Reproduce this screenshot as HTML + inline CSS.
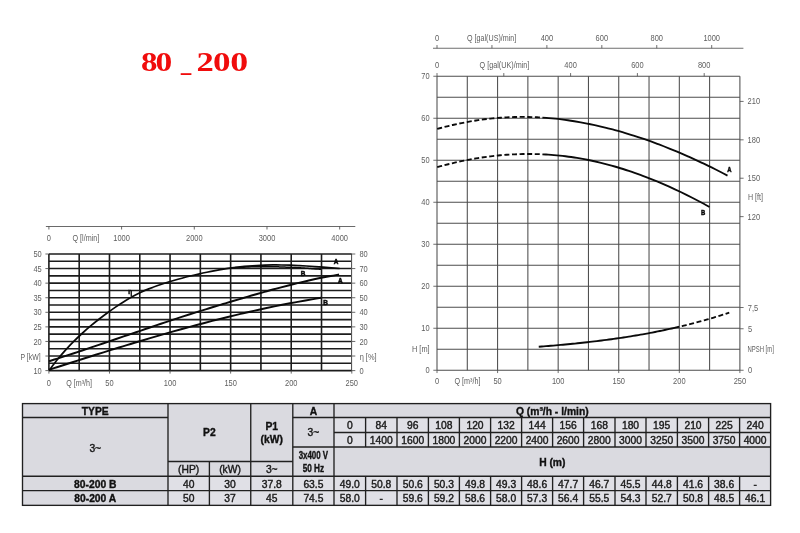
<!DOCTYPE html>
<html><head><meta charset="utf-8"><title>80_200</title>
<style>html,body{margin:0;padding:0;background:#fff;}body{width:800px;height:533px;overflow:hidden;font-family:"Liberation Sans",sans-serif;}svg{display:block;}text{font-family:"Liberation Sans",sans-serif;}.ax{font-size:8.6px;fill:#5e5e5e;}.lb{font-size:6.4px;font-weight:bold;fill:#0a0a0a;stroke:#0a0a0a;stroke-width:0.5px;}.tb{font-size:10.3px;fill:#1a1a1a;stroke:#1a1a1a;stroke-width:0.4px;}.tbb{font-size:10.3px;font-weight:bold;fill:#111;stroke:#111;stroke-width:0.35px;}.ttl text{font-family:"Liberation Serif",serif;font-weight:bold;font-size:27px;fill:#f00c0c;}</style>
</head><body>
<svg width="800" height="533" viewBox="0 0 800 533">
<defs><filter id="soft" x="0" y="0" width="800" height="533" filterUnits="userSpaceOnUse" color-interpolation-filters="sRGB"><feGaussianBlur stdDeviation="0.38"/></filter></defs>
<rect x="0" y="0" width="800" height="533" fill="#ffffff"/>
<g filter="url(#soft)">
<g class="ttl">
<text transform="translate(149.30 71.20) scale(1.22 1)" x="0" y="0" text-anchor="middle">8</text>
<text transform="translate(163.80 71.20) scale(1.24 1)" x="0" y="0" text-anchor="middle">0</text>
<text transform="translate(205.15 71.20) scale(1.28 1)" x="0" y="0" text-anchor="middle">2</text>
<text transform="translate(221.80 71.20) scale(1.30 1)" x="0" y="0" text-anchor="middle">0</text>
<text transform="translate(239.15 71.20) scale(1.33 1)" x="0" y="0" text-anchor="middle">0</text>
</g>
<rect x="180.7" y="73.2" width="10.7" height="1.8" fill="#f00c0c"/>
<g stroke="#1c1c1c" stroke-width="1.6" fill="none">
<line x1="48.90" y1="254.00" x2="351.80" y2="254.00"/>
<line x1="48.90" y1="261.29" x2="351.80" y2="261.29"/>
<line x1="48.90" y1="268.57" x2="351.80" y2="268.57"/>
<line x1="48.90" y1="275.86" x2="351.80" y2="275.86"/>
<line x1="48.90" y1="283.15" x2="351.80" y2="283.15"/>
<line x1="48.90" y1="290.44" x2="351.80" y2="290.44"/>
<line x1="48.90" y1="297.73" x2="351.80" y2="297.73"/>
<line x1="48.90" y1="305.01" x2="351.80" y2="305.01"/>
<line x1="48.90" y1="312.30" x2="351.80" y2="312.30"/>
<line x1="48.90" y1="319.59" x2="351.80" y2="319.59"/>
<line x1="48.90" y1="326.88" x2="351.80" y2="326.88"/>
<line x1="48.90" y1="334.16" x2="351.80" y2="334.16"/>
<line x1="48.90" y1="341.45" x2="351.80" y2="341.45"/>
<line x1="48.90" y1="348.74" x2="351.80" y2="348.74"/>
<line x1="48.90" y1="356.03" x2="351.80" y2="356.03"/>
<line x1="48.90" y1="363.31" x2="351.80" y2="363.31"/>
<line x1="48.90" y1="370.60" x2="351.80" y2="370.60"/>
<line x1="48.90" y1="254.00" x2="48.90" y2="370.60"/>
<line x1="79.19" y1="254.00" x2="79.19" y2="370.60"/>
<line x1="109.48" y1="254.00" x2="109.48" y2="370.60"/>
<line x1="139.77" y1="254.00" x2="139.77" y2="370.60"/>
<line x1="170.06" y1="254.00" x2="170.06" y2="370.60"/>
<line x1="200.35" y1="254.00" x2="200.35" y2="370.60"/>
<line x1="230.64" y1="254.00" x2="230.64" y2="370.60"/>
<line x1="260.93" y1="254.00" x2="260.93" y2="370.60"/>
<line x1="291.22" y1="254.00" x2="291.22" y2="370.60"/>
<line x1="321.51" y1="254.00" x2="321.51" y2="370.60"/>
</g>
<line x1="351.80" y1="255.00" x2="351.80" y2="369.60" stroke="#fff" stroke-width="1.6"/>
<line x1="351.60" y1="254.00" x2="351.60" y2="370.60" stroke="#333" stroke-width="0.9"/>
<g stroke="#444" stroke-width="0.8" fill="none">
<line x1="45.40" y1="254.00" x2="48.90" y2="254.00"/>
<line x1="351.80" y1="254.00" x2="355.30" y2="254.00"/>
<line x1="45.40" y1="268.57" x2="48.90" y2="268.57"/>
<line x1="351.80" y1="268.57" x2="355.30" y2="268.57"/>
<line x1="45.40" y1="283.15" x2="48.90" y2="283.15"/>
<line x1="351.80" y1="283.15" x2="355.30" y2="283.15"/>
<line x1="45.40" y1="297.73" x2="48.90" y2="297.73"/>
<line x1="351.80" y1="297.73" x2="355.30" y2="297.73"/>
<line x1="45.40" y1="312.30" x2="48.90" y2="312.30"/>
<line x1="351.80" y1="312.30" x2="355.30" y2="312.30"/>
<line x1="45.40" y1="326.88" x2="48.90" y2="326.88"/>
<line x1="351.80" y1="326.88" x2="355.30" y2="326.88"/>
<line x1="45.40" y1="341.45" x2="48.90" y2="341.45"/>
<line x1="351.80" y1="341.45" x2="355.30" y2="341.45"/>
<line x1="45.40" y1="356.03" x2="48.90" y2="356.03"/>
<line x1="351.80" y1="356.03" x2="355.30" y2="356.03"/>
<line x1="45.40" y1="370.60" x2="48.90" y2="370.60"/>
<line x1="351.80" y1="370.60" x2="355.30" y2="370.60"/>
<line x1="48.90" y1="370.60" x2="48.90" y2="373.60"/>
<line x1="109.48" y1="370.60" x2="109.48" y2="373.60"/>
<line x1="170.06" y1="370.60" x2="170.06" y2="373.60"/>
<line x1="230.64" y1="370.60" x2="230.64" y2="373.60"/>
<line x1="291.22" y1="370.60" x2="291.22" y2="373.60"/>
<line x1="351.80" y1="370.60" x2="351.80" y2="373.60"/>
<line x1="45.90" y1="226.50" x2="355.30" y2="226.50"/>
<line x1="48.90" y1="226.50" x2="48.90" y2="229.50"/>
<line x1="121.60" y1="226.50" x2="121.60" y2="229.50"/>
<line x1="194.29" y1="226.50" x2="194.29" y2="229.50"/>
<line x1="266.99" y1="226.50" x2="266.99" y2="229.50"/>
<line x1="339.68" y1="226.50" x2="339.68" y2="229.50"/>
</g>
<text transform="translate(48.90 240.70) scale(0.870 1)" x="0" y="0" class="ax" text-anchor="middle" >0</text>
<text transform="translate(121.60 240.70) scale(0.870 1)" x="0" y="0" class="ax" text-anchor="middle" >1000</text>
<text transform="translate(194.29 240.70) scale(0.870 1)" x="0" y="0" class="ax" text-anchor="middle" >2000</text>
<text transform="translate(266.99 240.70) scale(0.870 1)" x="0" y="0" class="ax" text-anchor="middle" >3000</text>
<text transform="translate(339.68 240.70) scale(0.870 1)" x="0" y="0" class="ax" text-anchor="middle" >4000</text>
<text x="72.50" y="240.70" class="ax" text-anchor="start" textLength="26.80" lengthAdjust="spacingAndGlyphs">Q [l/min]</text>
<text transform="translate(41.70 257.10) scale(0.870 1)" x="0" y="0" class="ax" text-anchor="end" >50</text>
<text transform="translate(41.70 271.68) scale(0.870 1)" x="0" y="0" class="ax" text-anchor="end" >45</text>
<text transform="translate(41.70 286.25) scale(0.870 1)" x="0" y="0" class="ax" text-anchor="end" >40</text>
<text transform="translate(41.70 300.83) scale(0.870 1)" x="0" y="0" class="ax" text-anchor="end" >35</text>
<text transform="translate(41.70 315.40) scale(0.870 1)" x="0" y="0" class="ax" text-anchor="end" >30</text>
<text transform="translate(41.70 329.98) scale(0.870 1)" x="0" y="0" class="ax" text-anchor="end" >25</text>
<text transform="translate(41.70 344.55) scale(0.870 1)" x="0" y="0" class="ax" text-anchor="end" >20</text>
<text x="20.50" y="360.03" class="ax" text-anchor="start" textLength="20.10" lengthAdjust="spacingAndGlyphs">P [kW]</text>
<text transform="translate(41.70 373.70) scale(0.870 1)" x="0" y="0" class="ax" text-anchor="end" >10</text>
<text transform="translate(359.40 257.10) scale(0.870 1)" x="0" y="0" class="ax" text-anchor="start" >80</text>
<text transform="translate(359.40 271.68) scale(0.870 1)" x="0" y="0" class="ax" text-anchor="start" >70</text>
<text transform="translate(359.40 286.25) scale(0.870 1)" x="0" y="0" class="ax" text-anchor="start" >60</text>
<text transform="translate(359.40 300.83) scale(0.870 1)" x="0" y="0" class="ax" text-anchor="start" >50</text>
<text transform="translate(359.40 315.40) scale(0.870 1)" x="0" y="0" class="ax" text-anchor="start" >40</text>
<text transform="translate(359.40 329.98) scale(0.870 1)" x="0" y="0" class="ax" text-anchor="start" >30</text>
<text transform="translate(359.40 344.55) scale(0.870 1)" x="0" y="0" class="ax" text-anchor="start" >20</text>
<text x="359.70" y="359.93" class="ax" text-anchor="start" textLength="16.90" lengthAdjust="spacingAndGlyphs">&#951; [%]</text>
<text transform="translate(359.40 373.70) scale(0.870 1)" x="0" y="0" class="ax" text-anchor="start" >0</text>
<text transform="translate(48.90 386.00) scale(0.870 1)" x="0" y="0" class="ax" text-anchor="middle" >0</text>
<text transform="translate(109.48 386.00) scale(0.870 1)" x="0" y="0" class="ax" text-anchor="middle" >50</text>
<text transform="translate(170.06 386.00) scale(0.870 1)" x="0" y="0" class="ax" text-anchor="middle" >100</text>
<text transform="translate(230.64 386.00) scale(0.870 1)" x="0" y="0" class="ax" text-anchor="middle" >150</text>
<text transform="translate(291.22 386.00) scale(0.870 1)" x="0" y="0" class="ax" text-anchor="middle" >200</text>
<text transform="translate(351.80 386.00) scale(0.870 1)" x="0" y="0" class="ax" text-anchor="middle" >250</text>
<text x="66.20" y="386.00" class="ax" text-anchor="start" textLength="25.80" lengthAdjust="spacingAndGlyphs">Q [m&#179;/h]</text>
<g stroke="#0a0a0a" stroke-width="1.95" fill="none" stroke-linecap="butt">
<path d="M49.10 370.44 C50.48 368.64 54.63 363.01 57.40 359.59 C60.17 356.16 62.94 352.96 65.70 349.89 C68.47 346.82 71.24 343.95 74.00 341.18 C76.77 338.40 79.54 335.79 82.31 333.25 C85.07 330.72 87.84 328.31 90.61 325.97 C93.37 323.64 96.14 321.41 98.91 319.25 C101.68 317.09 104.44 315.02 107.21 313.00 C109.98 310.99 112.74 309.03 115.51 307.15 C118.28 305.27 121.05 303.45 123.81 301.73 C126.58 300.01 129.35 298.36 132.11 296.83 C134.88 295.29 137.65 293.85 140.42 292.52 C143.18 291.20 145.95 290.00 148.72 288.87 C151.48 287.74 154.25 286.72 157.02 285.74 C159.79 284.77 162.55 283.88 165.32 283.01 C168.09 282.14 170.85 281.32 173.62 280.52 C176.39 279.72 179.16 278.94 181.92 278.20 C184.69 277.45 187.46 276.73 190.22 276.04 C192.99 275.35 195.76 274.68 198.53 274.05 C201.29 273.42 204.06 272.81 206.83 272.24 C209.59 271.67 212.36 271.12 215.13 270.61 C217.90 270.10 220.66 269.63 223.43 269.18 C226.20 268.74 228.96 268.32 231.73 267.95 C234.50 267.57 237.27 267.22 240.03 266.92 C242.80 266.61 245.57 266.33 248.33 266.10 C251.10 265.86 253.87 265.66 256.64 265.50 C259.40 265.34 262.17 265.21 264.94 265.13 C267.70 265.04 270.47 264.99 273.24 264.97 C276.01 264.95 278.77 264.96 281.54 265.00 C284.31 265.04 287.07 265.11 289.84 265.20 C292.61 265.29 295.38 265.41 298.14 265.55 C300.91 265.68 303.68 265.84 306.44 266.00 C309.21 266.17 311.98 266.36 314.75 266.55 C317.51 266.75 320.28 266.96 323.05 267.17 C325.81 267.38 328.58 267.60 331.35 267.82 C334.12 268.04 338.27 268.38 339.65 268.49" stroke-width="1.70"/>
<path d="M230.70 268.00 C231.13 267.96 232.42 267.85 233.28 267.78 C234.14 267.72 235.00 267.65 235.86 267.59 C236.72 267.53 237.58 267.47 238.44 267.42 C239.30 267.36 240.16 267.31 241.02 267.26 C241.88 267.22 242.74 267.17 243.60 267.13 C244.46 267.09 245.32 267.05 246.18 267.01 C247.04 266.98 247.90 266.94 248.76 266.91 C249.62 266.88 250.48 266.85 251.34 266.83 C252.20 266.80 253.06 266.78 253.92 266.76 C254.78 266.74 255.64 266.73 256.50 266.71 C257.36 266.70 258.22 266.69 259.08 266.68 C259.94 266.67 260.80 266.66 261.66 266.66 C262.52 266.65 263.38 266.65 264.24 266.65 C265.10 266.65 265.96 266.66 266.82 266.66 C267.68 266.67 268.54 266.68 269.40 266.69 C270.26 266.70 271.12 266.71 271.98 266.72 C272.84 266.74 273.70 266.75 274.56 266.77 C275.42 266.79 276.28 266.81 277.14 266.83 C278.00 266.86 278.86 266.88 279.72 266.91 C280.58 266.93 281.44 266.96 282.30 266.99 C283.16 267.02 284.02 267.05 284.88 267.09 C285.74 267.12 286.60 267.16 287.46 267.19 C288.32 267.23 289.18 267.27 290.04 267.31 C290.90 267.35 291.76 267.39 292.62 267.43 C293.48 267.48 294.34 267.52 295.20 267.57 C296.06 267.61 296.92 267.66 297.78 267.71 C298.64 267.76 299.50 267.81 300.36 267.86 C301.22 267.91 302.08 267.97 302.94 268.02 C303.80 268.07 304.66 268.13 305.52 268.18 C306.38 268.24 307.24 268.30 308.10 268.36 C308.96 268.42 309.82 268.47 310.68 268.54 C311.54 268.60 312.40 268.66 313.26 268.72 C314.12 268.78 314.98 268.84 315.84 268.91 C316.70 268.97 317.56 269.04 318.42 269.10 C319.28 269.17 320.57 269.27 321.00 269.30" stroke-width="1.50"/>
<path d="M49.10 361.20 C50.48 360.76 54.62 359.46 57.38 358.58 C60.15 357.69 62.91 356.80 65.67 355.91 C68.43 355.01 71.19 354.11 73.95 353.20 C76.71 352.29 79.48 351.38 82.24 350.46 C85.00 349.54 87.76 348.62 90.52 347.69 C93.28 346.77 96.04 345.84 98.81 344.90 C101.57 343.97 104.33 343.03 107.09 342.10 C109.85 341.16 112.61 340.22 115.37 339.28 C118.14 338.34 120.90 337.39 123.66 336.45 C126.42 335.51 129.18 334.56 131.94 333.62 C134.70 332.68 137.47 331.74 140.23 330.80 C142.99 329.86 145.75 328.92 148.51 327.98 C151.27 327.05 154.03 326.11 156.80 325.18 C159.56 324.25 162.32 323.33 165.08 322.40 C167.84 321.48 170.60 320.56 173.36 319.65 C176.13 318.74 178.89 317.83 181.65 316.93 C184.41 316.03 187.17 315.14 189.93 314.26 C192.69 313.37 195.46 312.50 198.22 311.63 C200.98 310.76 203.74 309.91 206.50 309.06 C209.26 308.21 212.02 307.37 214.79 306.53 C217.55 305.69 220.31 304.87 223.07 304.04 C225.83 303.21 228.59 302.38 231.35 301.55 C234.12 300.72 236.88 299.89 239.64 299.07 C242.40 298.25 245.16 297.42 247.92 296.61 C250.68 295.80 253.45 294.99 256.21 294.19 C258.97 293.40 261.73 292.61 264.49 291.84 C267.25 291.07 270.01 290.31 272.78 289.56 C275.54 288.82 278.30 288.08 281.06 287.36 C283.82 286.64 286.58 285.93 289.34 285.23 C292.11 284.53 294.87 283.84 297.63 283.16 C300.39 282.49 303.15 281.82 305.91 281.18 C308.67 280.54 311.44 279.91 314.20 279.30 C316.96 278.70 319.72 278.11 322.48 277.56 C325.24 277.00 328.00 276.47 330.77 275.97 C333.53 275.47 337.67 274.79 339.05 274.55" stroke-width="1.95"/>
<path d="M49.10 369.75 C50.39 369.33 54.28 368.07 56.87 367.23 C59.46 366.39 62.05 365.55 64.64 364.72 C67.23 363.88 69.82 363.05 72.41 362.22 C75.00 361.38 77.58 360.55 80.17 359.73 C82.76 358.90 85.35 358.07 87.94 357.25 C90.53 356.43 93.12 355.61 95.71 354.79 C98.30 353.97 100.89 353.16 103.48 352.35 C106.07 351.54 108.66 350.73 111.25 349.93 C113.84 349.12 116.43 348.32 119.02 347.52 C121.61 346.73 124.20 345.93 126.79 345.14 C129.38 344.36 131.96 343.57 134.55 342.79 C137.14 342.01 139.73 341.23 142.32 340.46 C144.91 339.69 147.50 338.92 150.09 338.16 C152.68 337.39 155.27 336.64 157.86 335.88 C160.45 335.13 163.04 334.38 165.63 333.64 C168.22 332.90 170.81 332.16 173.40 331.43 C175.99 330.70 178.58 329.98 181.17 329.26 C183.76 328.54 186.34 327.82 188.93 327.12 C191.52 326.41 194.11 325.71 196.70 325.01 C199.29 324.32 201.88 323.63 204.47 322.95 C207.06 322.27 209.65 321.59 212.24 320.93 C214.83 320.26 217.42 319.60 220.01 318.95 C222.60 318.29 225.19 317.65 227.78 317.01 C230.37 316.37 232.96 315.74 235.55 315.12 C238.14 314.50 240.72 313.88 243.31 313.28 C245.90 312.67 248.49 312.07 251.08 311.48 C253.67 310.90 256.26 310.31 258.85 309.74 C261.44 309.17 264.03 308.61 266.62 308.05 C269.21 307.50 271.80 306.95 274.39 306.41 C276.98 305.88 279.57 305.35 282.16 304.83 C284.75 304.32 287.34 303.81 289.93 303.31 C292.52 302.81 295.10 302.32 297.69 301.85 C300.28 301.37 302.87 300.90 305.46 300.44 C308.05 299.98 310.64 299.54 313.23 299.10 C315.82 298.66 319.71 298.04 321.00 297.82" stroke-width="1.95"/>
</g>
<text x="336.05" y="264.00" class="lb" text-anchor="middle" >A</text>
<text x="303.00" y="275.90" class="lb" text-anchor="middle" >B</text>
<text x="340.30" y="282.60" class="lb" text-anchor="middle" >A</text>
<text x="325.60" y="304.70" class="lb" text-anchor="middle" >B</text>
<text x="130.20" y="294.20" class="lb" text-anchor="middle" >&#951;</text>
<g stroke="#4c4c4c" stroke-width="1.05" fill="none">
<line x1="437.00" y1="76.25" x2="739.90" y2="76.25"/>
<line x1="437.00" y1="97.25" x2="739.90" y2="97.25"/>
<line x1="437.00" y1="118.25" x2="739.90" y2="118.25"/>
<line x1="437.00" y1="139.25" x2="739.90" y2="139.25"/>
<line x1="437.00" y1="160.25" x2="739.90" y2="160.25"/>
<line x1="437.00" y1="181.25" x2="739.90" y2="181.25"/>
<line x1="437.00" y1="202.25" x2="739.90" y2="202.25"/>
<line x1="437.00" y1="223.25" x2="739.90" y2="223.25"/>
<line x1="437.00" y1="244.25" x2="739.90" y2="244.25"/>
<line x1="437.00" y1="265.25" x2="739.90" y2="265.25"/>
<line x1="437.00" y1="286.25" x2="739.90" y2="286.25"/>
<line x1="437.00" y1="307.25" x2="739.90" y2="307.25"/>
<line x1="437.00" y1="328.25" x2="739.90" y2="328.25"/>
<line x1="437.00" y1="349.25" x2="739.90" y2="349.25"/>
<line x1="437.00" y1="370.25" x2="739.90" y2="370.25"/>
<line x1="437.00" y1="76.25" x2="437.00" y2="370.25"/>
<line x1="467.29" y1="76.25" x2="467.29" y2="370.25"/>
<line x1="497.58" y1="76.25" x2="497.58" y2="370.25"/>
<line x1="527.87" y1="76.25" x2="527.87" y2="370.25"/>
<line x1="558.16" y1="76.25" x2="558.16" y2="370.25"/>
<line x1="588.45" y1="76.25" x2="588.45" y2="370.25"/>
<line x1="618.74" y1="76.25" x2="618.74" y2="370.25"/>
<line x1="649.03" y1="76.25" x2="649.03" y2="370.25"/>
<line x1="679.32" y1="76.25" x2="679.32" y2="370.25"/>
<line x1="709.61" y1="76.25" x2="709.61" y2="370.25"/>
<line x1="739.90" y1="76.25" x2="739.90" y2="370.25"/>
</g>
<g stroke="#4a4a4a" stroke-width="0.8" fill="none">
<line x1="433.30" y1="76.25" x2="437.00" y2="76.25"/>
<line x1="433.30" y1="118.25" x2="437.00" y2="118.25"/>
<line x1="433.30" y1="160.25" x2="437.00" y2="160.25"/>
<line x1="433.30" y1="202.25" x2="437.00" y2="202.25"/>
<line x1="433.30" y1="244.25" x2="437.00" y2="244.25"/>
<line x1="433.30" y1="286.25" x2="437.00" y2="286.25"/>
<line x1="433.30" y1="328.25" x2="437.00" y2="328.25"/>
<line x1="433.30" y1="370.25" x2="437.00" y2="370.25"/>
<line x1="437.00" y1="370.25" x2="437.00" y2="373.05"/>
<line x1="497.58" y1="370.25" x2="497.58" y2="373.05"/>
<line x1="558.16" y1="370.25" x2="558.16" y2="373.05"/>
<line x1="618.74" y1="370.25" x2="618.74" y2="373.05"/>
<line x1="679.32" y1="370.25" x2="679.32" y2="373.05"/>
<line x1="739.90" y1="370.25" x2="739.90" y2="373.05"/>
<line x1="739.90" y1="216.63" x2="743.60" y2="216.63"/>
<line x1="739.90" y1="178.23" x2="743.60" y2="178.23"/>
<line x1="739.90" y1="139.82" x2="743.60" y2="139.82"/>
<line x1="739.90" y1="101.42" x2="743.60" y2="101.42"/>
<line x1="739.90" y1="307.50" x2="743.60" y2="307.50"/>
<line x1="739.90" y1="328.75" x2="743.60" y2="328.75"/>
<line x1="739.90" y1="370.25" x2="743.60" y2="370.25"/>
<line x1="437.00" y1="76.25" x2="437.00" y2="73.05"/>
<line x1="503.80" y1="76.25" x2="503.80" y2="73.05"/>
<line x1="570.60" y1="76.25" x2="570.60" y2="73.05"/>
<line x1="637.40" y1="76.25" x2="637.40" y2="73.05"/>
<line x1="704.20" y1="76.25" x2="704.20" y2="73.05"/>
<line x1="433.00" y1="48.25" x2="743.40" y2="48.25"/>
<line x1="437.00" y1="48.25" x2="437.00" y2="45.05"/>
<line x1="491.94" y1="48.25" x2="491.94" y2="45.05"/>
<line x1="546.88" y1="48.25" x2="546.88" y2="45.05"/>
<line x1="601.82" y1="48.25" x2="601.82" y2="45.05"/>
<line x1="656.76" y1="48.25" x2="656.76" y2="45.05"/>
<line x1="711.70" y1="48.25" x2="711.70" y2="45.05"/>
</g>
<text transform="translate(437.00 41.00) scale(0.870 1)" x="0" y="0" class="ax" text-anchor="middle" >0</text>
<text transform="translate(546.88 41.00) scale(0.870 1)" x="0" y="0" class="ax" text-anchor="middle" >400</text>
<text transform="translate(601.82 41.00) scale(0.870 1)" x="0" y="0" class="ax" text-anchor="middle" >600</text>
<text transform="translate(656.76 41.00) scale(0.870 1)" x="0" y="0" class="ax" text-anchor="middle" >800</text>
<text transform="translate(711.70 41.00) scale(0.870 1)" x="0" y="0" class="ax" text-anchor="middle" >1000</text>
<text x="467.00" y="41.00" class="ax" text-anchor="start" textLength="49.30" lengthAdjust="spacingAndGlyphs">Q [gal(US)/min]</text>
<text transform="translate(437.00 68.20) scale(0.870 1)" x="0" y="0" class="ax" text-anchor="middle" >0</text>
<text transform="translate(570.60 68.20) scale(0.870 1)" x="0" y="0" class="ax" text-anchor="middle" >400</text>
<text transform="translate(637.40 68.20) scale(0.870 1)" x="0" y="0" class="ax" text-anchor="middle" >600</text>
<text transform="translate(704.20 68.20) scale(0.870 1)" x="0" y="0" class="ax" text-anchor="middle" >800</text>
<text x="479.50" y="68.20" class="ax" text-anchor="start" textLength="49.80" lengthAdjust="spacingAndGlyphs">Q [gal(UK)/min]</text>
<text transform="translate(429.60 79.05) scale(0.870 1)" x="0" y="0" class="ax" text-anchor="end" >70</text>
<text transform="translate(429.60 121.05) scale(0.870 1)" x="0" y="0" class="ax" text-anchor="end" >60</text>
<text transform="translate(429.60 163.05) scale(0.870 1)" x="0" y="0" class="ax" text-anchor="end" >50</text>
<text transform="translate(429.60 205.05) scale(0.870 1)" x="0" y="0" class="ax" text-anchor="end" >40</text>
<text transform="translate(429.60 247.05) scale(0.870 1)" x="0" y="0" class="ax" text-anchor="end" >30</text>
<text transform="translate(429.60 289.05) scale(0.870 1)" x="0" y="0" class="ax" text-anchor="end" >20</text>
<text transform="translate(429.60 331.05) scale(0.870 1)" x="0" y="0" class="ax" text-anchor="end" >10</text>
<text transform="translate(429.60 373.05) scale(0.870 1)" x="0" y="0" class="ax" text-anchor="end" >0</text>
<text x="412.00" y="352.30" class="ax" text-anchor="start" textLength="17.60" lengthAdjust="spacingAndGlyphs">H [m]</text>
<text transform="translate(437.00 384.00) scale(0.870 1)" x="0" y="0" class="ax" text-anchor="middle" >0</text>
<text transform="translate(497.58 384.00) scale(0.870 1)" x="0" y="0" class="ax" text-anchor="middle" >50</text>
<text transform="translate(558.16 384.00) scale(0.870 1)" x="0" y="0" class="ax" text-anchor="middle" >100</text>
<text transform="translate(618.74 384.00) scale(0.870 1)" x="0" y="0" class="ax" text-anchor="middle" >150</text>
<text transform="translate(679.32 384.00) scale(0.870 1)" x="0" y="0" class="ax" text-anchor="middle" >200</text>
<text transform="translate(739.90 384.00) scale(0.870 1)" x="0" y="0" class="ax" text-anchor="middle" >250</text>
<text x="454.50" y="384.00" class="ax" text-anchor="start" textLength="26.00" lengthAdjust="spacingAndGlyphs">Q [m&#179;/h]</text>
<text transform="translate(747.60 219.53) scale(0.870 1)" x="0" y="0" class="ax" text-anchor="start" >120</text>
<text transform="translate(747.60 181.13) scale(0.870 1)" x="0" y="0" class="ax" text-anchor="start" >150</text>
<text transform="translate(747.60 142.72) scale(0.870 1)" x="0" y="0" class="ax" text-anchor="start" >180</text>
<text transform="translate(747.60 104.32) scale(0.870 1)" x="0" y="0" class="ax" text-anchor="start" >210</text>
<text x="748.00" y="199.80" class="ax" text-anchor="start" textLength="15.00" lengthAdjust="spacingAndGlyphs">H [ft]</text>
<text transform="translate(747.80 310.50) scale(0.870 1)" x="0" y="0" class="ax" text-anchor="start" >7,5</text>
<text transform="translate(748.00 331.50) scale(0.870 1)" x="0" y="0" class="ax" text-anchor="start" >5</text>
<text transform="translate(748.00 373.00) scale(0.870 1)" x="0" y="0" class="ax" text-anchor="start" >0</text>
<text x="747.50" y="352.30" class="ax" text-anchor="start" textLength="26.30" lengthAdjust="spacingAndGlyphs">NPSH [m]</text>
<g stroke="#0a0a0a" stroke-width="1.85" fill="none">
<path d="M437.20 128.94 C438.12 128.69 440.89 127.92 442.74 127.44 C444.58 126.96 446.43 126.49 448.27 126.04 C450.12 125.59 451.96 125.15 453.81 124.74 C455.66 124.32 457.50 123.92 459.35 123.53 C461.19 123.15 463.04 122.78 464.88 122.42 C466.73 122.07 468.58 121.74 470.42 121.42 C472.27 121.10 474.11 120.80 475.96 120.51 C477.80 120.23 479.65 119.96 481.49 119.71 C483.34 119.46 485.19 119.22 487.03 119.01 C488.88 118.79 490.72 118.59 492.57 118.41 C494.41 118.22 496.26 118.06 498.11 117.91 C499.95 117.76 501.80 117.63 503.64 117.51 C505.49 117.40 507.33 117.30 509.18 117.22 C511.02 117.14 512.87 117.08 514.72 117.03 C516.56 116.98 518.41 116.95 520.25 116.94 C522.10 116.93 523.94 116.93 525.79 116.96 C527.64 116.98 529.48 117.02 531.33 117.07 C533.17 117.13 535.02 117.20 536.86 117.29 C538.71 117.38 541.48 117.55 542.40 117.60" stroke-dasharray="5 2.6"/>
<path d="M542.40 117.60 C543.46 117.69 546.66 117.91 548.78 118.09 C550.91 118.27 553.04 118.47 555.17 118.70 C557.29 118.92 559.42 119.17 561.55 119.43 C563.68 119.70 565.80 119.98 567.93 120.29 C570.06 120.59 572.19 120.92 574.31 121.26 C576.44 121.61 578.57 121.97 580.70 122.35 C582.82 122.74 584.95 123.14 587.08 123.56 C589.21 123.98 591.33 124.42 593.46 124.87 C595.59 125.33 597.72 125.81 599.84 126.30 C601.97 126.79 604.10 127.30 606.23 127.83 C608.36 128.36 610.48 128.91 612.61 129.47 C614.74 130.04 616.87 130.62 618.99 131.22 C621.12 131.82 623.25 132.43 625.38 133.07 C627.50 133.70 629.63 134.35 631.76 135.02 C633.89 135.69 636.01 136.37 638.14 137.07 C640.27 137.77 642.40 138.49 644.52 139.22 C646.65 139.96 648.78 140.71 650.91 141.47 C653.03 142.24 655.16 143.02 657.29 143.82 C659.42 144.62 661.54 145.43 663.67 146.26 C665.80 147.09 667.93 147.93 670.06 148.79 C672.18 149.65 674.31 150.53 676.44 151.42 C678.57 152.31 680.69 153.22 682.82 154.14 C684.95 155.06 687.08 155.99 689.20 156.94 C691.33 157.89 693.46 158.86 695.59 159.84 C697.71 160.81 699.84 161.81 701.97 162.81 C704.10 163.82 706.22 164.84 708.35 165.88 C710.48 166.91 712.61 167.96 714.73 169.03 C716.86 170.09 718.99 171.17 721.12 172.26 C723.24 173.34 726.44 175.01 727.50 175.56"/>
<path d="M437.20 167.20 C438.12 166.94 440.89 166.17 442.74 165.67 C444.58 165.18 446.43 164.70 448.27 164.24 C450.12 163.78 451.96 163.33 453.81 162.90 C455.66 162.46 457.50 162.05 459.35 161.64 C461.19 161.24 463.04 160.85 464.88 160.48 C466.73 160.11 468.58 159.76 470.42 159.42 C472.27 159.08 474.11 158.75 475.96 158.44 C477.80 158.13 479.65 157.84 481.49 157.56 C483.34 157.29 485.19 157.02 487.03 156.78 C488.88 156.53 490.72 156.30 492.57 156.09 C494.41 155.88 496.26 155.68 498.11 155.50 C499.95 155.31 501.80 155.15 503.64 155.00 C505.49 154.85 507.33 154.72 509.18 154.60 C511.02 154.49 512.87 154.39 514.72 154.30 C516.56 154.22 518.41 154.15 520.25 154.10 C522.10 154.05 523.94 154.02 525.79 154.00 C527.64 153.98 529.48 153.98 531.33 154.00 C533.17 154.02 535.02 154.05 536.86 154.10 C538.71 154.15 541.48 154.27 542.40 154.30" stroke-dasharray="5 2.6"/>
<path d="M542.40 154.30 C543.36 154.36 546.24 154.50 548.16 154.62 C550.08 154.75 552.00 154.89 553.92 155.06 C555.84 155.22 557.77 155.40 559.69 155.60 C561.61 155.80 563.53 156.02 565.45 156.26 C567.37 156.50 569.29 156.75 571.21 157.03 C573.13 157.31 575.05 157.60 576.97 157.92 C578.89 158.23 580.81 158.56 582.73 158.92 C584.66 159.27 586.58 159.64 588.50 160.03 C590.42 160.42 592.34 160.83 594.26 161.25 C596.18 161.68 598.10 162.13 600.02 162.59 C601.94 163.05 603.86 163.53 605.78 164.03 C607.70 164.53 609.62 165.05 611.54 165.58 C613.47 166.12 615.39 166.67 617.31 167.24 C619.23 167.81 621.15 168.39 623.07 169.00 C624.99 169.60 626.91 170.22 628.83 170.86 C630.75 171.50 632.67 172.15 634.59 172.83 C636.51 173.50 638.43 174.19 640.36 174.89 C642.28 175.59 644.20 176.32 646.12 177.05 C648.04 177.79 649.96 178.54 651.88 179.31 C653.80 180.08 655.72 180.87 657.64 181.67 C659.56 182.47 661.48 183.29 663.40 184.12 C665.32 184.95 667.24 185.80 669.17 186.66 C671.09 187.53 673.01 188.40 674.93 189.30 C676.85 190.19 678.77 191.10 680.69 192.02 C682.61 192.95 684.53 193.88 686.45 194.84 C688.37 195.79 690.29 196.76 692.21 197.74 C694.13 198.72 696.06 199.71 697.98 200.72 C699.90 201.73 701.82 202.76 703.74 203.79 C705.66 204.83 708.54 206.42 709.50 206.95"/>
<path d="M538.75 346.76 C539.56 346.70 541.98 346.51 543.59 346.38 C545.21 346.25 546.82 346.12 548.44 345.99 C550.05 345.85 551.67 345.71 553.28 345.58 C554.90 345.44 556.51 345.29 558.13 345.15 C559.74 345.01 561.36 344.86 562.97 344.71 C564.59 344.56 566.20 344.41 567.82 344.25 C569.43 344.10 571.05 343.94 572.66 343.78 C574.28 343.62 575.89 343.45 577.51 343.28 C579.12 343.12 580.74 342.94 582.35 342.77 C583.97 342.59 585.58 342.42 587.20 342.23 C588.81 342.05 590.43 341.87 592.04 341.68 C593.66 341.49 595.27 341.30 596.89 341.10 C598.50 340.90 600.12 340.70 601.73 340.49 C603.35 340.29 604.96 340.08 606.58 339.87 C608.19 339.65 609.81 339.43 611.42 339.21 C613.04 338.99 614.65 338.76 616.27 338.53 C617.88 338.30 619.50 338.06 621.11 337.82 C622.73 337.58 624.34 337.33 625.96 337.08 C627.57 336.83 629.19 336.58 630.80 336.31 C632.42 336.05 634.03 335.79 635.65 335.52 C637.26 335.24 638.88 334.97 640.49 334.68 C642.11 334.40 643.72 334.11 645.34 333.82 C646.95 333.53 648.57 333.23 650.18 332.92 C651.80 332.62 653.41 332.31 655.03 331.99 C656.64 331.67 658.26 331.35 659.87 331.02 C661.49 330.69 663.10 330.35 664.72 330.01 C666.33 329.67 667.95 329.32 669.56 328.97 C671.18 328.61 672.79 328.25 674.41 327.88 C676.02 327.52 678.44 326.95 679.25 326.76"/>
<path d="M679.25 326.76 C680.01 326.58 682.28 326.04 683.80 325.67 C685.31 325.30 686.83 324.92 688.34 324.54 C689.86 324.16 691.37 323.77 692.89 323.37 C694.40 322.98 695.92 322.58 697.43 322.17 C698.95 321.76 700.46 321.35 701.98 320.92 C703.49 320.50 705.01 320.08 706.52 319.64 C708.04 319.20 709.55 318.76 711.07 318.31 C712.58 317.86 714.10 317.41 715.61 316.95 C717.13 316.48 718.64 316.01 720.16 315.53 C721.67 315.06 723.19 314.57 724.70 314.08 C726.22 313.59 728.49 312.83 729.25 312.58" stroke-dasharray="5 2.6" stroke-dashoffset="-2.6"/>
</g>
<text transform="translate(729.3 172.3) scale(0.8 1)" x="0" y="0" class="lb" style="font-size:7.4px" text-anchor="middle">A</text>
<text transform="translate(703.1 215.0) scale(0.8 1)" x="0" y="0" class="lb" style="font-size:7.4px" text-anchor="middle">B</text>
<rect x="22.50" y="403.60" width="748.10" height="101.75" fill="#dadae0"/>
<rect x="168.00" y="476.25" width="602.60" height="29.10" fill="#e0e0e6"/>
<rect x="334.00" y="417.50" width="436.60" height="29.50" fill="#e0e0e6"/>
<g stroke="#202020" stroke-width="1.35" fill="none">
<rect x="22.50" y="403.60" width="748.10" height="101.75"/>
<line x1="168.00" y1="403.60" x2="168.00" y2="505.35"/>
<line x1="250.75" y1="403.60" x2="250.75" y2="505.35"/>
<line x1="292.80" y1="403.60" x2="292.80" y2="505.35"/>
<line x1="334.00" y1="403.60" x2="334.00" y2="505.35"/>
<line x1="209.40" y1="461.50" x2="209.40" y2="505.35"/>
<line x1="22.50" y1="417.50" x2="168.00" y2="417.50"/>
<line x1="292.80" y1="417.50" x2="770.60" y2="417.50"/>
<line x1="292.80" y1="447.00" x2="770.60" y2="447.00"/>
<line x1="334.00" y1="432.50" x2="770.60" y2="432.50"/>
<line x1="168.00" y1="461.50" x2="292.80" y2="461.50"/>
<line x1="22.50" y1="476.25" x2="770.60" y2="476.25"/>
<line x1="22.50" y1="490.65" x2="770.60" y2="490.65"/>
<line x1="365.60" y1="417.50" x2="365.60" y2="447.00"/>
<line x1="365.60" y1="476.25" x2="365.60" y2="505.35"/>
<line x1="397.00" y1="417.50" x2="397.00" y2="447.00"/>
<line x1="397.00" y1="476.25" x2="397.00" y2="505.35"/>
<line x1="428.40" y1="417.50" x2="428.40" y2="447.00"/>
<line x1="428.40" y1="476.25" x2="428.40" y2="505.35"/>
<line x1="459.40" y1="417.50" x2="459.40" y2="447.00"/>
<line x1="459.40" y1="476.25" x2="459.40" y2="505.35"/>
<line x1="490.60" y1="417.50" x2="490.60" y2="447.00"/>
<line x1="490.60" y1="476.25" x2="490.60" y2="505.35"/>
<line x1="521.60" y1="417.50" x2="521.60" y2="447.00"/>
<line x1="521.60" y1="476.25" x2="521.60" y2="505.35"/>
<line x1="552.60" y1="417.50" x2="552.60" y2="447.00"/>
<line x1="552.60" y1="476.25" x2="552.60" y2="505.35"/>
<line x1="583.60" y1="417.50" x2="583.60" y2="447.00"/>
<line x1="583.60" y1="476.25" x2="583.60" y2="505.35"/>
<line x1="615.00" y1="417.50" x2="615.00" y2="447.00"/>
<line x1="615.00" y1="476.25" x2="615.00" y2="505.35"/>
<line x1="646.00" y1="417.50" x2="646.00" y2="447.00"/>
<line x1="646.00" y1="476.25" x2="646.00" y2="505.35"/>
<line x1="677.40" y1="417.50" x2="677.40" y2="447.00"/>
<line x1="677.40" y1="476.25" x2="677.40" y2="505.35"/>
<line x1="708.60" y1="417.50" x2="708.60" y2="447.00"/>
<line x1="708.60" y1="476.25" x2="708.60" y2="505.35"/>
<line x1="739.60" y1="417.50" x2="739.60" y2="447.00"/>
<line x1="739.60" y1="476.25" x2="739.60" y2="505.35"/>
</g>
<text x="95.25" y="414.60" class="tbb" text-anchor="middle" >TYPE</text>
<text x="95.25" y="451.50" class="tb" text-anchor="middle" >3~</text>
<text x="95.25" y="488.40" class="tbb" text-anchor="middle" >80-200 B</text>
<text x="95.25" y="502.10" class="tbb" text-anchor="middle" >80-200 A</text>
<text x="209.38" y="436.00" class="tbb" text-anchor="middle" >P2</text>
<text x="188.70" y="472.60" class="tb" text-anchor="middle" >(HP)</text>
<text x="230.07" y="472.60" class="tb" text-anchor="middle" >(kW)</text>
<text x="271.77" y="429.50" class="tbb" text-anchor="middle" >P1</text>
<text x="271.77" y="442.50" class="tbb" text-anchor="middle" >(kW)</text>
<text x="271.77" y="472.60" class="tb" text-anchor="middle" >3~</text>
<text x="313.40" y="414.60" class="tbb" text-anchor="middle" >A</text>
<text x="313.40" y="436.00" class="tb" text-anchor="middle" >3~</text>
<text x="313.40" y="459.00" class="tbb" text-anchor="middle" textLength="29.5" lengthAdjust="spacingAndGlyphs">3x400 V</text>
<text x="313.40" y="472.00" class="tbb" text-anchor="middle" textLength="21.5" lengthAdjust="spacingAndGlyphs">50 Hz</text>
<text x="552.30" y="414.60" class="tbb" text-anchor="middle" >Q (m&#179;/h - l/min)</text>
<text x="552.30" y="465.60" class="tbb" text-anchor="middle" >H (m)</text>
<text x="188.70" y="488.40" class="tb" text-anchor="middle" >40</text>
<text x="230.07" y="488.40" class="tb" text-anchor="middle" >30</text>
<text x="271.77" y="488.40" class="tb" text-anchor="middle" >37.8</text>
<text x="313.40" y="488.40" class="tb" text-anchor="middle" >63.5</text>
<text x="188.70" y="502.10" class="tb" text-anchor="middle" >50</text>
<text x="230.07" y="502.10" class="tb" text-anchor="middle" >37</text>
<text x="271.77" y="502.10" class="tb" text-anchor="middle" >45</text>
<text x="313.40" y="502.10" class="tb" text-anchor="middle" >74.5</text>
<text x="349.80" y="429.30" class="tb" text-anchor="middle" >0</text>
<text x="349.80" y="444.00" class="tb" text-anchor="middle" >0</text>
<text x="349.80" y="488.40" class="tb" text-anchor="middle" >49.0</text>
<text x="349.80" y="502.10" class="tb" text-anchor="middle" >58.0</text>
<text x="381.30" y="429.30" class="tb" text-anchor="middle" >84</text>
<text x="381.30" y="444.00" class="tb" text-anchor="middle" >1400</text>
<text x="381.30" y="488.40" class="tb" text-anchor="middle" >50.8</text>
<text x="381.30" y="502.10" class="tb" text-anchor="middle" >-</text>
<text x="412.70" y="429.30" class="tb" text-anchor="middle" >96</text>
<text x="412.70" y="444.00" class="tb" text-anchor="middle" >1600</text>
<text x="412.70" y="488.40" class="tb" text-anchor="middle" >50.6</text>
<text x="412.70" y="502.10" class="tb" text-anchor="middle" >59.6</text>
<text x="443.90" y="429.30" class="tb" text-anchor="middle" >108</text>
<text x="443.90" y="444.00" class="tb" text-anchor="middle" >1800</text>
<text x="443.90" y="488.40" class="tb" text-anchor="middle" >50.3</text>
<text x="443.90" y="502.10" class="tb" text-anchor="middle" >59.2</text>
<text x="475.00" y="429.30" class="tb" text-anchor="middle" >120</text>
<text x="475.00" y="444.00" class="tb" text-anchor="middle" >2000</text>
<text x="475.00" y="488.40" class="tb" text-anchor="middle" >49.8</text>
<text x="475.00" y="502.10" class="tb" text-anchor="middle" >58.6</text>
<text x="506.10" y="429.30" class="tb" text-anchor="middle" >132</text>
<text x="506.10" y="444.00" class="tb" text-anchor="middle" >2200</text>
<text x="506.10" y="488.40" class="tb" text-anchor="middle" >49.3</text>
<text x="506.10" y="502.10" class="tb" text-anchor="middle" >58.0</text>
<text x="537.10" y="429.30" class="tb" text-anchor="middle" >144</text>
<text x="537.10" y="444.00" class="tb" text-anchor="middle" >2400</text>
<text x="537.10" y="488.40" class="tb" text-anchor="middle" >48.6</text>
<text x="537.10" y="502.10" class="tb" text-anchor="middle" >57.3</text>
<text x="568.10" y="429.30" class="tb" text-anchor="middle" >156</text>
<text x="568.10" y="444.00" class="tb" text-anchor="middle" >2600</text>
<text x="568.10" y="488.40" class="tb" text-anchor="middle" >47.7</text>
<text x="568.10" y="502.10" class="tb" text-anchor="middle" >56.4</text>
<text x="599.30" y="429.30" class="tb" text-anchor="middle" >168</text>
<text x="599.30" y="444.00" class="tb" text-anchor="middle" >2800</text>
<text x="599.30" y="488.40" class="tb" text-anchor="middle" >46.7</text>
<text x="599.30" y="502.10" class="tb" text-anchor="middle" >55.5</text>
<text x="630.50" y="429.30" class="tb" text-anchor="middle" >180</text>
<text x="630.50" y="444.00" class="tb" text-anchor="middle" >3000</text>
<text x="630.50" y="488.40" class="tb" text-anchor="middle" >45.5</text>
<text x="630.50" y="502.10" class="tb" text-anchor="middle" >54.3</text>
<text x="661.70" y="429.30" class="tb" text-anchor="middle" >195</text>
<text x="661.70" y="444.00" class="tb" text-anchor="middle" >3250</text>
<text x="661.70" y="488.40" class="tb" text-anchor="middle" >44.8</text>
<text x="661.70" y="502.10" class="tb" text-anchor="middle" >52.7</text>
<text x="693.00" y="429.30" class="tb" text-anchor="middle" >210</text>
<text x="693.00" y="444.00" class="tb" text-anchor="middle" >3500</text>
<text x="693.00" y="488.40" class="tb" text-anchor="middle" >41.6</text>
<text x="693.00" y="502.10" class="tb" text-anchor="middle" >50.8</text>
<text x="724.10" y="429.30" class="tb" text-anchor="middle" >225</text>
<text x="724.10" y="444.00" class="tb" text-anchor="middle" >3750</text>
<text x="724.10" y="488.40" class="tb" text-anchor="middle" >38.6</text>
<text x="724.10" y="502.10" class="tb" text-anchor="middle" >48.5</text>
<text x="755.10" y="429.30" class="tb" text-anchor="middle" >240</text>
<text x="755.10" y="444.00" class="tb" text-anchor="middle" >4000</text>
<text x="755.10" y="488.40" class="tb" text-anchor="middle" >-</text>
<text x="755.10" y="502.10" class="tb" text-anchor="middle" >46.1</text>
</g>
</svg>
</body></html>
